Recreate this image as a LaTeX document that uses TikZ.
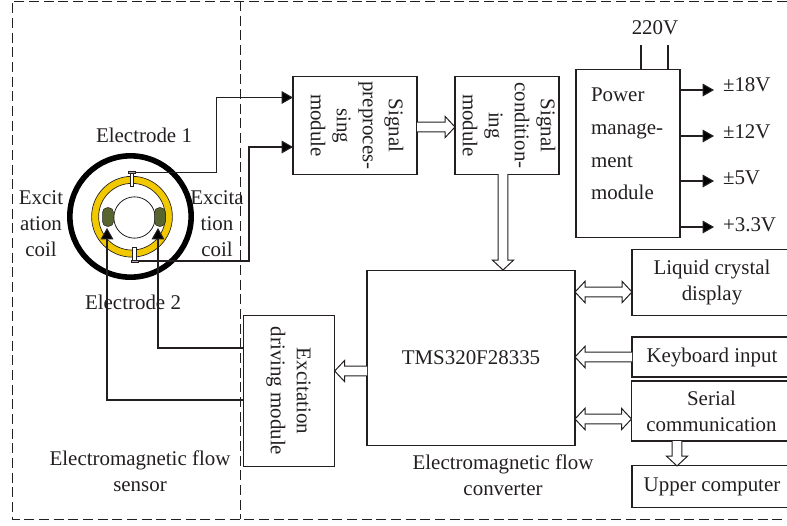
\documentclass[tikz,border=0pt]{standalone}
\usepackage{fontspec}
\setmainfont{Liberation Serif}
\usetikzlibrary{calc,arrows.meta}
\definecolor{ink}{HTML}{231F20}
\definecolor{coilyellow}{HTML}{F2C900}
\definecolor{coilgreen}{HTML}{59652F}
\definecolor{capgray}{HTML}{A8A8A8}
\newcommand{\lbl}{\fontsize{15.7}{19.5}\selectfont}
\newcommand{\rotlines}[1]{\rotatebox{-90}{\begin{tabular}{@{}c@{}}#1\end{tabular}}}
% hollow block arrows between two named points
\newcommand{\hollowarrow}[2]{%
  \coordinate (hN) at ($(#2)!7.5pt!(#1)$);
  \filldraw[hollowline]
    ($(#1)!3.6pt!90:(#2)$) -- ($(hN)!3.6pt!90:(#2)$) -- ($(hN)!8pt!90:(#2)$) -- (#2)
    -- ($(hN)!8pt!-90:(#2)$) -- ($(hN)!3.6pt!-90:(#2)$) -- ($(#1)!3.6pt!-90:(#2)$);}
\newcommand{\hollowboth}[2]{%
  \coordinate (hN) at ($(#2)!7.5pt!(#1)$);
  \coordinate (hM) at ($(#1)!7.5pt!(#2)$);
  \filldraw[hollowline]
    (#1) -- ($(hM)!8pt!-90:(#2)$) -- ($(hM)!3.6pt!-90:(#2)$) -- ($(hN)!3.6pt!90:(#1)$) -- ($(hN)!8pt!90:(#1)$) -- (#2)
    -- ($(hN)!8pt!-90:(#1)$) -- ($(hN)!3.6pt!-90:(#1)$) -- ($(hM)!3.6pt!90:(#2)$) -- ($(hM)!8pt!90:(#2)$) -- cycle;}
\tikzset{
  x=0.75pt,y=-0.75pt,
  every node/.style={text=ink,font=\lbl,inner sep=0pt,outer sep=0pt},
  box/.style={draw=ink,line width=0.9pt,align=center},
  txt/.style={align=center},
  wire/.style={draw=ink,line width=0.8pt},
  arr/.style={wire,-{Triangle[length=8.5pt,width=9.5pt,fill=black]}},
  hollowline/.style={draw=ink,fill=white,line width=0.75pt,line join=miter},
  frame/.style={draw=ink,line width=0.7pt,dash pattern=on 7.5pt off 3.5pt},
}
\begin{document}
\begin{tikzpicture}
\useasboundingbox (0,0) rectangle (787,525);
% dashed frames
\draw[frame] (787,1) -- (12,1) -- (12,519) -- (787,519);
\draw[frame] (240,1) -- (240,519);
% boxes
\node[box,minimum width=93pt,minimum height=73pt] (prep) at (355,125.5) {\rotlines{Signal\\preproces-\\sing\\module}};
\node[box,minimum width=76.5pt,minimum height=73pt] (cond) at (507,125.5) {\rotlines{Signal\\condition-\\ing\\module}};
\node[box,minimum width=78pt,minimum height=126.5pt] (power) at (628,153.5) {};
\node[txt,anchor=west,align=left,font=\fontsize{15.7}{24.4}\selectfont] (powertxt) at (591,144) {Power\\manage-\\ment\\module};
\node[box,minimum width=156pt,minimum height=131pt] (tms) at (471,358) {TMS320F28335};
\node[box,minimum width=68.5pt,minimum height=113pt] (drive) at (289,391) {\rotlines{Excitation\\driving module}};
\node[box,minimum width=120pt,minimum height=49pt] (lcd) at (712,282.5) {Liquid crystal\\display};
\node[box,minimum width=120pt,minimum height=30pt] (kbd) at (712,357) {Keyboard input};
\node[box,minimum width=120pt,minimum height=45pt] (serial) at (711.5,411) {Serial\\communication};
\node[box,minimum width=120pt,minimum height=31pt] (upper) at (712,486.5) {Upper computer};
% sensor
\coordinate (c) at (130.5,216.5);
\draw[draw=black,line width=4.2pt] (c) circle[radius=45.5pt];
\filldraw[fill=coilyellow,draw=ink,line width=0.5pt,even odd rule] (132,216.7) circle[radius=30.3pt] (132,216.7) circle[radius=25pt];
\draw[draw=ink,line width=0.6pt,fill=white] (134.5,217.5) circle[radius=15.5pt];
\node[draw=ink,line width=0.4pt,fill=coilgreen,rounded corners=3.5pt,minimum width=8.2pt,minimum height=14pt] (coilL) at (108,217) {};
\node[draw=ink,line width=0.4pt,fill=coilgreen,rounded corners=3.5pt,minimum width=8.2pt,minimum height=14pt] (coilR) at (160,217) {};
\node[draw=ink,line width=0.4pt,fill=white,minimum width=2.6pt,minimum height=10.5pt] (el1) at (132,179) {};
\node[draw=ink,line width=0.4pt,fill=capgray,minimum width=5.2pt,minimum height=1.8pt] (el1cap) at (132,172.5) {};
\node[draw=ink,line width=0.4pt,fill=white,minimum width=2.6pt,minimum height=10.5pt] (el2) at (134.3,254) {};
\node[draw=ink,line width=0.4pt,fill=capgray,minimum width=5.2pt,minimum height=1.8pt] (el2cap) at (134.3,261) {};
% wires
\coordinate (w1a) at (216.7,97.5);
\coordinate (w2a) at (249,147);
\draw[arr] (el1cap.east) -| (w1a) -- (w1a -| prep.west);
\draw[arr] (el2cap.east) -- (249,261) |- (w2a -| prep.west);
\coordinate (t1) at (158,228);
\coordinate (t2) at (107,228);
\draw[arr] (drive.west |- 0,348) -| (t1);
\draw[arr] (drive.west |- 0,400) -| (t2);
% power wires
\coordinate (p220a) at (641,45);
\coordinate (p220b) at (668,45);
\draw[wire] (p220a) -- (p220a |- power.north);
\draw[wire] (p220b) -- (p220b |- power.north);
\foreach \yy/\nm in {90/a,136/b,181/c,227/d}{
  \coordinate (out\nm) at (714,\yy);
  \draw[arr] (power.east |- out\nm) -- (out\nm);
}
% hollow arrows
\coordinate (hp1) at (prep.east |- 0,127);
\coordinate (hp2) at (cond.west |- 0,127);
\hollowarrow{hp1}{hp2}
\coordinate (hc1) at (503,174);
\coordinate (hc2) at (503,270);
\hollowarrow{hc1}{hc2}
\coordinate (hd1) at (tms.west |- 0,371);
\coordinate (hd2) at (drive.east |- 0,371);
\hollowarrow{hd1}{hd2}
\coordinate (hk1) at (kbd.west);
\coordinate (hk2) at (tms.east |- kbd.west);
\hollowarrow{hk1}{hk2}
\coordinate (hl1) at (tms.east |- 0,292);
\coordinate (hl2) at (lcd.west |- 0,292);
\hollowboth{hl1}{hl2}
\coordinate (hs1) at (tms.east |- 0,419);
\coordinate (hs2) at (serial.west |- 0,419);
\hollowboth{hs1}{hs2}
\coordinate (hu1) at (677,441);
\coordinate (hu2) at (677,466);
\hollowarrow{hu1}{hu2}
% labels
\node[txt] (l220) at (655,28) {220V};
\node[txt,anchor=west] (l18) at (723,85) {±18V};
\node[txt,anchor=west] (l12) at (723,132) {±12V};
\node[txt,anchor=west] (l5) at (723,178) {±5V};
\node[txt,anchor=west] (l33) at (723,225) {+3.3V};
\node[txt] (le1) at (144,135) {Electrode 1};
\node[txt] (le2) at (133,302) {Electrode 2};
\node[txt] (lcl) at (41,224) {Excit\\ation\\coil};
\node[txt] (lcr) at (217,224) {Excita\\tion\\coil};
\node[txt] (lsensor) at (140,471) {Electromagnetic flow\\sensor};
\node[txt] (lconv) at (503,475) {Electromagnetic flow\\converter};
\end{tikzpicture}
\end{document}
